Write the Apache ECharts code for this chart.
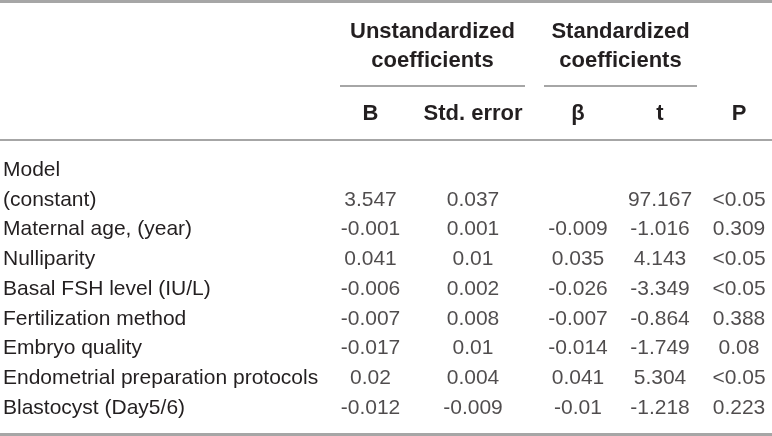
<!DOCTYPE html>
<html>
<head>
<meta charset="utf-8">
<script src="https://cdn.jsdelivr.net/npm/echarts@6/dist/echarts.min.js"></script>
<style>
  html, body { margin: 0; padding: 0; background: #fff; }
  #main { width: 772px; height: 436px; }
</style>
</head>
<body>
<div id="main"></div>
<script>
// row labels (left column)
var rowNames = ['Model', '(constant)', 'Maternal age, (year)', 'Nulliparity', 'Basal FSH level (IU/L)',
    'Fertilization method', 'Embryo quality', 'Endometrial preparation protocols', 'Blastocyst (Day5/6)'];
// column headers
var colNames = ['B', 'Std. error', 'β', 't', 'P'];
var groupNames = ['Unstandardized\ncoefficients', 'Standardized\ncoefficients'];

// values per column, one entry per row ('' = empty cell)
var bVals = ['', '3.547', '-0.001', '0.041', '-0.006', '-0.007', '-0.017', '0.02', '-0.012'];
var seVals = ['', '0.037', '0.001', '0.01', '0.002', '0.008', '0.01', '0.004', '-0.009'];
var betaVals = ['', '', '-0.009', '0.035', '-0.026', '-0.007', '-0.014', '0.041', '-0.01'];
var tVals = ['', '97.167', '-1.016', '4.143', '-3.349', '-0.864', '-1.749', '5.304', '-1.218'];
var pVals = ['', '<0.05', '0.309', '<0.05', '<0.05', '0.388', '0.08', '<0.05', '0.223'];

var columns = [bVals, seVals, betaVals, tVals, pVals];

// layout: column centres and the spans of the group rules
var colCenter = [370, 473, 578, 660, 746];
var groupSpan = [[340, 525], [544, 697]];

var FONT = 'Liberation Sans, Arial, sans-serif';
var TXT = '#231f20';
var LINE = '#a6a6a6';

var myChart = echarts.init(document.getElementById('main'));

var grids = [], xAxes = [], yAxes = [], series = [];
columns.forEach(function (vals, ci) {
    grids.push({ left: colCenter[ci] - 40, width: 80, top: 170, bottom: 28 });
    xAxes.push({
        type: 'category',
        gridIndex: ci,
        position: 'top',
        data: [colNames[ci]],
        axisLine: { show: false },
        axisTick: { show: false },
        splitLine: { show: false },
        axisLabel: {
            margin: 45,
            color: TXT,
            fontFamily: FONT,
            fontWeight: 'bold',
            fontSize: 22
        }
    });
    yAxes.push({
        type: 'category',
        gridIndex: ci,
        data: rowNames,
        inverse: true,
        boundaryGap: false,
        axisLine: { show: false },
        axisTick: { show: false },
        splitLine: { show: false },
        axisLabel: {
            // only the first column's axis carries the row names
            show: ci === 0,
            align: 'left',
            margin: colCenter[0] - 40 - 2,
            color: TXT,
            fontFamily: FONT,
            fontSize: 21
        }
    });
    var data = [];
    vals.forEach(function (v, ri) {
        if (v !== '') data.push([colNames[ci], rowNames[ri], v]);
    });
    series.push({
        type: 'scatter',
        xAxisIndex: ci,
        yAxisIndex: ci,
        data: data,
        symbolSize: 1,
        itemStyle: { color: 'transparent' },
        silent: true,
        label: {
            show: true,
            position: 'inside',
            formatter: function (p) { return p.data[2]; },
            color: TXT,
            fontFamily: FONT,
            fontSize: 21
        }
    });
});

function hline(x1, x2, y, w) {
    return { type: 'line', silent: true, shape: { x1: x1, y1: y, x2: x2, y2: y },
        style: { stroke: LINE, lineWidth: w } };
}
function groupText(t, span) {
    return { type: 'text', silent: true, x: (span[0] + span[1]) / 2, y: 46,
        style: { text: t, align: 'center', verticalAlign: 'middle', lineHeight: 29,
            fill: TXT, fontFamily: FONT, fontWeight: 'bold', fontSize: 22 } };
}

var option = {
    animation: false,
    grid: grids,
    xAxis: xAxes,
    yAxis: yAxes,
    series: series,
    graphic: [
        hline(0, 772, 1.5, 3),
        hline(0, 772, 140, 2),
        hline(0, 772, 434.5, 3),
        hline(groupSpan[0][0], groupSpan[0][1], 86, 2),
        hline(groupSpan[1][0], groupSpan[1][1], 86, 2),
        groupText(groupNames[0], groupSpan[0]),
        groupText(groupNames[1], groupSpan[1])
    ]
};

myChart.setOption(option);
</script>
</body>
</html>
